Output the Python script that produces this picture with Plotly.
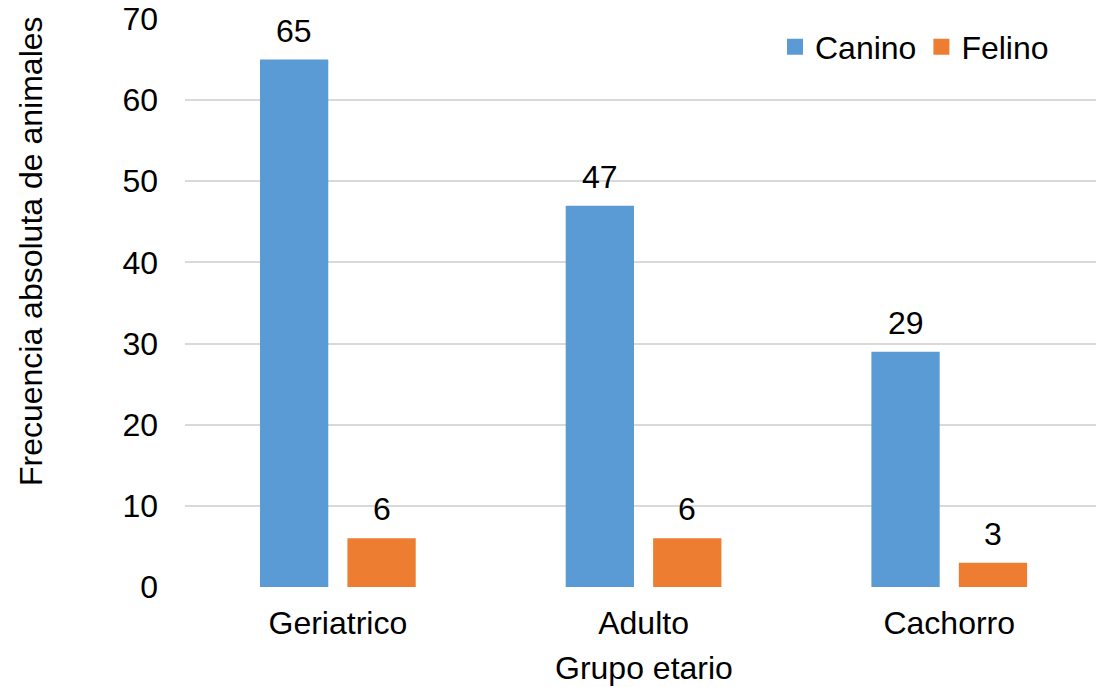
import plotly.graph_objects as go

categories = ["Geriatrico", "Adulto", "Cachorro"]
canino = [65, 47, 29]
felino = [6, 6, 3]
series_names = ["Canino", "Felino"]
colors = ["#5B9BD5", "#ED7D31"]
y_ticks = [0, 10, 20, 30, 40, 50, 60, 70]

FONT = "Liberation Sans, Arial, sans-serif"
FS = 32
xpos = list(range(len(categories)))
bar_w = 0.2234
offsets = [-0.2547, 0.0313]

fig = go.Figure()
for name, vals, col, off in zip(series_names, [canino, felino], colors, offsets):
    fig.add_trace(go.Bar(
        x=xpos, y=vals, width=bar_w, offset=off,
        marker=dict(color=col, line=dict(width=0)),
        showlegend=False, hoverinfo="skip",
    ))
    fig.add_trace(go.Scatter(
        x=[None], y=[None], mode="markers", name=name,
        marker=dict(symbol="square", size=16, color=col),
    ))
    for xi, v in zip(xpos, vals):
        fig.add_annotation(
            x=xi + off + bar_w / 2, y=v, text=str(v), showarrow=False,
            yanchor="middle", yshift=29, font=dict(size=FS, color="#000000", family=FONT),
        )

fig.add_annotation(
    text="Frecuencia absoluta de animales", textangle=-90, showarrow=False,
    xref="paper", yref="paper", x=-0.1690, xanchor="center", y=0.5915, yanchor="middle",
    font=dict(size=FS, color="#000000", family=FONT),
)
fig.add_annotation(
    text="Grupo etario", showarrow=False,
    xref="paper", yref="paper", x=(644 - 185) / 911, xanchor="center",
    y=-(668 - 587) / 568, yanchor="middle",
    font=dict(size=FS, color="#000000", family=FONT),
)

fig.update_layout(
    width=1096, height=687,
    margin=dict(l=185, r=0, t=19, b=100),
    paper_bgcolor="white", plot_bgcolor="white",
    font=dict(family=FONT, size=FS, color="#000000"),
    barmode="overlay",
    legend=dict(
        orientation="h", x=(1054 - 185) / 911, xanchor="right",
        y=(587 - 47) / 568, yanchor="middle",
        font=dict(size=FS, color="#000000", family=FONT),
        bgcolor="rgba(0,0,0,0)", itemwidth=30,
    ),
    xaxis=dict(
        range=[-0.5, 2.48], tickmode="array", tickvals=xpos, ticktext=categories,
        showgrid=False, zeroline=False, showline=False, ticks="",
        ticklabelstandoff=14, tickfont=dict(size=FS, color="#000000"),
    ),
    yaxis=dict(
        range=[0, 70], tickmode="array", tickvals=y_ticks,
        showgrid=True, gridcolor="#d9d9d9", gridwidth=1.5,
        zeroline=False, showline=False, ticks="",
        ticklabelstandoff=26, tickfont=dict(size=FS, color="#000000"),
    ),
)

fig.write_html("out.html")
